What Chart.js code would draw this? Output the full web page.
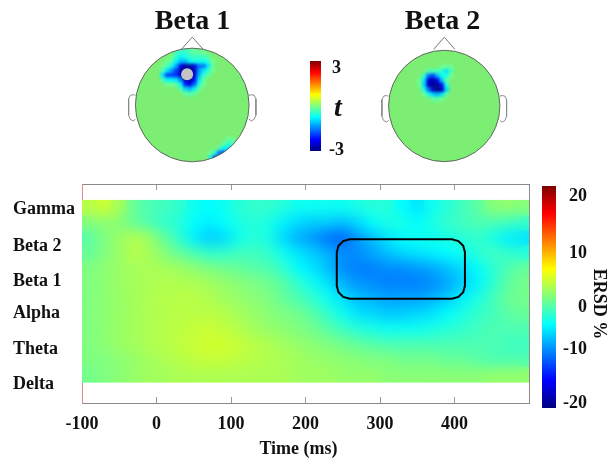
<!DOCTYPE html>
<html><head><meta charset="utf-8">
<script src="https://cdn.jsdelivr.net/npm/chart.js@4"></script>
<style>
html,body{margin:0;padding:0;background:#fff}
body{position:relative;width:611px;height:463px;overflow:hidden}
canvas{position:absolute;display:block}
#tLabel{position:absolute;left:326px;top:90px;width:24px;text-align:center;font:italic bold 28px "Liberation Serif",serif;color:#111;line-height:34px}
</style></head><body>
<canvas id="topo1" width="162" height="182" style="left:110px;top:0"></canvas>
<canvas id="topo2" width="166" height="182" style="left:368px;top:0"></canvas>
<canvas id="tBar" width="60" height="130" style="left:300px;top:40px"></canvas>
<div id="tLabel">t</div>
<canvas id="main" width="611" height="463" style="left:0;top:0"></canvas>
<canvas id="ersdBar" width="81" height="265" style="left:530px;top:165px"></canvas>
<script>
// ---- main time-frequency map ----
const bandNames = ['Delta','Theta','Alpha','Beta 1','Beta 2','Gamma'];
const bandTicks = [-0.029,0.971,2,2.914,3.914,4.971];
const timeTicks = [-100,0,100,200,300,400,500];
const timeLabels = ['-100','0','100','200','300','400',''];
const heatTimes = [-90,-70,-50,-30,-10,10,30,50,70,90,110,130,150,170,190,210,230,250,270,290,310,330,350,370,390,410,430,450,470,490];
const heatBands = [5.011,4.577,4.143,3.708,3.274,2.840,2.405,1.971,1.537,1.103,0.668,0.234];
const ersdRow0  = [2.2,3,1.5,-1,-2,-2.5,-3,-4.5,-5,-4.5,-3.5,-3,-3,-3.5,-4.5,-4.5,-4.5,-4.5,-4,-3.5,-3.5,-5,-6,-4.5,-3.5,-2.5,-1.5,0.3,0.7,0.3];
const ersdRow1  = [0,0.5,0.3,-1,-2,-3,-3.5,-5,-5.5,-5,-4,-3.5,-4,-5.5,-6.5,-7,-7,-7.5,-6.5,-5,-4,-4,-5,-4,-3,-2.5,-2,-2,-2.5,-3];
const ersdRow2  = [-1.5,0,1,2,1.2,-1,-3,-5.5,-7,-6.5,-4.5,-3.5,-4,-6.5,-8,-9,-10.5,-11,-9,-7.5,-6,-5,-4.5,-4.5,-4,-3.5,-3,-4,-5.5,-6];
const ersdRow3  = [-1,0,1,2,1.5,0.3,-1,-2,-3,-3,-2.5,-2.5,-3,-4.5,-6,-7,-8,-9.5,-9.5,-8.5,-7.5,-6.5,-6,-5.5,-5,-4.5,-3.5,-2.5,-3,-3.5];
const ersdRow4  = [0,0.5,1,1.5,1.6,1.6,1.2,0.6,0,-0.5,-1,-1.5,-2,-3,-5,-6,-7.5,-9.5,-10,-10,-9.5,-9.5,-9,-8.5,-7.5,-6.5,-5,-3.5,-2,-1];
const ersdRow5  = [0,0.5,1,1.4,1.8,1.9,1.9,1.8,1.4,0.9,0.4,0,-0.5,-1.5,-3,-4.5,-6,-8,-9,-9.5,-10,-10,-10,-9.5,-8.5,-7,-5.5,-3.5,-1.5,-0.5];
const ersdRow6  = [0,0.5,1,1.4,1.8,2.1,2.2,2.2,1.9,1.4,0.9,0.4,0,-1,-2,-3,-4.5,-6,-7.5,-8,-8.5,-8.5,-8.5,-8,-7,-5.5,-4,-2.5,-1,-0.5];
const ersdRow7  = [0,0.5,1,1.4,1.8,2.1,2.2,2.3,2.3,2,1.5,1,0.4,0,-0.5,-1.5,-3,-4.5,-6,-6.5,-7,-7,-6.5,-6,-5,-4,-3,-2.5,-1.5,-1];
const ersdRow8  = [0,0.5,1,1.4,1.8,2.1,2.4,2.7,2.9,2.6,2,1.4,0.9,0.4,0,-0.5,-1.5,-2.5,-3.5,-4,-4.5,-4.5,-4.5,-4,-3.5,-3,-2.5,-2,-2,-2];
const ersdRow9  = [0,0.5,1,1.4,1.8,2.1,2.4,2.9,3.2,3.2,2.8,2.3,1.9,1.4,0.9,0.4,0,-0.5,-1,-1.5,-2,-2,-2,-2,-2,-2,-2,-2,-2.5,-2.5];
const ersdRow10 = [0,0,0.5,0.9,1.4,1.8,2.1,2.5,2.7,2.7,2.4,2.2,1.9,1.7,1.3,1,0.8,0.5,0.3,0,0,-0.5,-0.5,-0.5,-1,-1,-1.5,-2,-2,-2];
const ersdRow11 = [-0.5,0,0.4,0.9,1.3,1.4,1.7,1.8,1.8,1.8,1.8,1.7,1.7,1.6,1.3,1.2,1.2,0.9,0.8,0.8,0.4,0.4,0.4,0.4,0.4,0.4,0.4,0.8,0.8,0.8];
const ersdRows = [ersdRow0,ersdRow1,ersdRow2,ersdRow3,ersdRow4,ersdRow5,ersdRow6,ersdRow7,ersdRow8,ersdRow9,ersdRow10,ersdRow11];
// region-of-interest box (ms, band units)
const boxTimes = [242,244.3,250.7,259.4,396.6,405.3,411.7,414,414,411.7,405.3,396.6,259.4,250.7,244.3,242,242];
const boxBands = [3.736,3.921,4.056,4.106,4.106,4.056,3.921,3.736,2.779,2.594,2.459,2.409,2.409,2.459,2.594,2.779,3.736];

// ---- colour bars ----
const ersdBarRange = [-20,20];
const ersdTickPlaces = [18.2,7.9,-1.8,-9.4,-19.2];
const ersdTickLabels = ['20','10','0','-10','-20'];
const tBarRange = [-3,3];
const tTickPlaces = [2.52,-2.93];
const tTickLabels = ['3','-3'];

// ---- scalp maps (t values; head radius = 100) ----
const b1X = [-52,-44,-36,-28,-20,-12,-4,4,12,20,28,36];
const b1Y = [100,92,84,76,68,60,52,44,36,28,20];
const b1T = [
 [0,0,0,0,-.2,-.3,-.2,-.1,-.1,0,0,0],
 [0,0,0,-.3,-.5,-.5,-.3,-.2,-.2,-.1,0,0],
 [0,0,-.1,-.5,-.8,-.6,-.5,-.4,-.4,-.4,-.3,0],
 [0,-.1,-.3,-.8,-1.2,-1.2,-.8,-.6,-.7,-.7,-.5,-.1],
 [-.1,-.3,-.7,-1.3,-2.4,-2.8,-2.8,-2.4,-1.6,-1.6,-.9,-.2],
 [-.3,-.9,-1.4,-1.9,-2.6,-2.9,-2.9,-2.6,-1.4,-.9,-.5,-.1],
 [-.9,-1.9,-1.9,-2,-2.6,-2.9,-2.9,-2.5,-1.2,-.5,-.2,0],
 [-.3,-.8,-.8,-.9,-1.5,-2.6,-2.7,-2.2,-.9,-.2,0,0],
 [0,-.1,-.1,-.2,-.8,-2.1,-2.4,-1.7,-.6,-.1,0,0],
 [0,0,0,0,-.3,-1,-1.2,-.8,-.2,0,0,0],
 [0,0,0,0,0,-.2,-.3,-.2,0,0,0,0]];
const b1LowX = [24,32,40,48,56,64,72];
const b1LowY = [-60,-68,-76,-84,-92,-100];
const b1LowT = [
 [0,0,0,0,0,-.1,-.1],
 [0,0,0,0,-.2,-.5,-.3],
 [0,0,0,-.3,-.8,-.9,-.4],
 [0,-.1,-.5,-1.6,-1.8,-1,0],
 [0,-.6,-1.8,-2.8,-2.6,0,0],
 [0,-.5,-2,-2.8,-2.6,0,0]];
const b2X = [-44,-36,-28,-20,-12,-4,4,12];
const b2Y = [68,60,52,44,36,28,20,12];
const b2T = [
 [0,0,0,0,0,-.1,-.1,-.1],
 [0,0,-.3,-.4,-.3,-.5,-.9,-.4],
 [0,-.5,-1.6,-1.9,-1.2,-.7,-.6,-.1],
 [-.1,-.9,-2.4,-2.8,-2.3,-1.1,-.2,0],
 [-.1,-1,-2.6,-2.9,-2.9,-2.2,-.6,0],
 [0,-.6,-1.6,-2.6,-2.9,-2.6,-1,0],
 [0,-.1,-.6,-1,-1.2,-.9,-.2,0],
 [0,0,0,-.2,-.2,-.1,0,0]];
const electrodeDot = [{x:-9,y:54}];
const noseX = [-19,0,19], noseY = [98,119,98];
const earLeftX = [-100,-104,-109,-112,-112,-109,-104,-100];
const earRightX = [100,104,109,112,112,109,104,100];
const earY = [17,18,17,11,-18,-25,-28,-25];

// ---- helpers ----
const serif = '"Liberation Serif", serif';
const ink = '#111';
const clamp01 = v => Math.max(0, Math.min(1, v));
function jet(f){
  const r = clamp01(1.5 - Math.abs(4*f - 3)), g = clamp01(1.5 - Math.abs(4*f - 2)), b = clamp01(1.5 - Math.abs(4*f - 1));
  return `rgb(${Math.round(r*255)},${Math.round(g*255)},${Math.round(b*255)})`;
}
const jetStops = [0,.125,.375,.625,.875,1];
function barGradient(ctx){
  const a = ctx.chart.chartArea;
  if(!a) return '#7f7';
  const g = ctx.chart.ctx.createLinearGradient(0,a.bottom,0,a.top);
  jetStops.forEach(s => g.addColorStop(s, jet(s)));
  return g;
}
function shiftTitle(scale,dx,dy){
  if(scale._shifted) return;
  scale._shifted = true;
  const orig = scale.drawTitle;
  scale.drawTitle = function(){
    const c = this.ctx; c.save(); c.translate(dx,dy); orig.call(this); c.restore();
  };
}
const smoothCells = {
  id:'smoothCells',
  beforeDatasetDraw(chart,args){
    const d = chart.data.datasets[args.index];
    if(!d.smoothPx) return;
    const ctx = chart.ctx; ctx.save();
    if(d.circleClip){
      const x=chart.scales.x, y=chart.scales.y;
      ctx.beginPath();
      ctx.arc(x.getPixelForValue(0),y.getPixelForValue(0),x.getPixelForValue(100)-x.getPixelForValue(0),0,Math.PI*2);
      ctx.clip();
    }
  },
  afterDatasetDraw(chart,args){
    const d = chart.data.datasets[args.index];
    if(!d.smoothPx) return;
    const ctx = chart.ctx, a = d.smoothArea ? d.smoothArea(chart) : {x:chart.chartArea.left,y:chart.chartArea.top,w:chart.chartArea.width,h:chart.chartArea.height};
    if(!d.circleClip){ ctx.beginPath(); ctx.rect(a.x,a.y,a.w,a.h); ctx.clip(); }
    ctx.filter = `blur(${d.smoothPx}px)`;
    ctx.drawImage(chart.canvas,a.x,a.y,a.w,a.h,a.x,a.y,a.w,a.h);
    ctx.filter = 'none';
    ctx.restore();
  }
};
Chart.register(smoothCells);
const base = {responsive:false,animation:false,devicePixelRatio:1,events:[],
  plugins:{legend:{display:false},tooltip:{enabled:false},title:{display:false}}};

// ---- main chart ----
const heatPoints = [];
ersdRows.forEach((row,j)=>row.forEach((v,i)=>heatPoints.push({x:heatTimes[i],y:heatBands[j],v})));
const tickFont = {family:serif,size:18,weight:'bold'};
new Chart(document.getElementById('main'),{
  type:'scatter',
  data:{datasets:[
    {label:'ROI',data:boxTimes.map((x,i)=>({x,y:boxBands[i]})),showLine:true,pointRadius:0,borderColor:'#000',borderWidth:2,order:0},
    {label:'ERSD %',data:heatPoints,pointStyle:'rect',pointRadius:10.9,pointBorderWidth:0,
     pointBackgroundColor:c=>jet((c.raw.v+20)/40),order:5,smoothPx:6.5,
     smoothArea(chart){
       const y=chart.scales.y,a=chart.chartArea;
       const t=y.getPixelForValue(5.229),b=y.getPixelForValue(0.017);
       return {x:a.left,y:t,w:a.width,h:b-t};
     }}
  ]},
  options:{...base,
    layout:{padding:{left:13,top:184,right:82,bottom:0}},
    scales:{
      x:{type:'linear',position:'bottom',min:-100,max:500,
        afterBuildTicks:s=>{s.ticks=timeTicks.map(v=>({value:v}));},
        afterFit:s=>{s.height=60;shiftTitle(s,-7,0);},
        border:{color:'#8a8a8a'},
        grid:{drawOnChartArea:false,tickLength:-6,tickColor:'#999'},
        ticks:{font:tickFont,color:ink,padding:17,maxRotation:0,autoSkip:false,callback:(v,i)=>timeLabels[i]},
        title:{display:true,text:'Time (ms)',font:tickFont,color:ink,padding:{top:0,bottom:3}}},
      x2:{type:'linear',position:'top',min:-100,max:500,
        afterBuildTicks:s=>{s.ticks=timeTicks.map(v=>({value:v}));},
        afterFit:s=>{s.height=0;},
        border:{color:'#8a8a8a'},
        grid:{drawOnChartArea:false,tickLength:-6,tickColor:'#999'},
        ticks:{display:false}},
      y:{type:'linear',position:'left',min:-0.571,max:5.686,
        afterBuildTicks:s=>{s.ticks=bandTicks.map(v=>({value:v}));},
        afterFit:s=>{s.width=69;},
        border:{color:'#d98a8a'},grid:{display:false},
        ticks:{font:tickFont,color:ink,crossAlign:'far',autoSkip:false,callback:(v,i)=>bandNames[i]}},
      y2:{type:'linear',position:'right',min:-0.571,max:5.686,
        afterFit:s=>{s.width=0;},
        border:{color:'#8a8a8a'},grid:{display:false},ticks:{display:false}}
    }
  }
});

// ---- colour bars ----
function colourBar(id,range,places,labels,pad,scaleWidth,tickOpts,extraY){
  return new Chart(document.getElementById(id),{
    type:'bar',
    data:{labels:[id],datasets:[{data:[range],backgroundColor:barGradient,borderWidth:0,barPercentage:1,categoryPercentage:1,inflateAmount:0}]},
    options:{...base,layout:{padding:pad},
      scales:{
        x:{display:false},
        y:Object.assign({type:'linear',position:'right',min:range[0],max:range[1],
          afterBuildTicks:s=>{s.ticks=places.map(v=>({value:v}));},
          afterFit:s=>{s.width=scaleWidth;if(extraY)extraY(s);},
          border:{display:false},grid:{display:false},
          ticks:Object.assign({font:tickFont,color:ink,autoSkip:false,callback:(v,i)=>labels[i]},tickOpts)
        },id==='ersdBar'?{title:{display:true,text:'ERSD %',font:tickFont,color:ink,padding:0}}:{})
      }
    }
  });
}
colourBar('ersdBar',ersdBarRange,ersdTickPlaces,ersdTickLabels,{left:12,right:24,top:21,bottom:22},31,{crossAlign:'far'},s=>shiftTitle(s,22,7));
colourBar('tBar',tBarRange,tTickPlaces,tTickLabels,{left:10,right:9,top:21,bottom:19},30,{crossAlign:'center',padding:0});

// ---- scalp maps ----
const grid = (xs,ys,ts) => ts.flatMap((row,j)=>row.map((t,i)=>({x:xs[i],y:ys[j],t})));
const headColour = '#7bee73';
const lineColour = '#777';
function topo(id,title,cells,pad,dot){
  const radius = c => { const x=c.chart.scales.x; return x.getPixelForValue(100)-x.getPixelForValue(0); };
  const line = (xs,ys,order,col)=>({data:xs.map((x,i)=>({x,y:ys[i]})),showLine:true,pointRadius:0,borderColor:col,borderWidth:1,order});
  const datasets = [
    line(noseX,noseY,9,lineColour),
    line(earLeftX,earY,9,'#8a8a8a'),
    line(earRightX,earY,9,'#8a8a8a'),
    {data:[{x:0,y:0}],pointRadius:radius,pointBackgroundColor:headColour,pointBorderWidth:0,order:8},
    {data:cells,pointStyle:'rect',pointRadius:3.4,pointBorderWidth:0,order:7,smoothPx:1.6,circleClip:true,
     pointBackgroundColor:c=>c.raw.t===0?'rgba(0,0,0,0)':jet((c.raw.t+3)/6)},
    {data:[{x:0,y:0}],pointRadius:radius,pointBackgroundColor:'rgba(0,0,0,0)',pointBorderColor:'#666',pointBorderWidth:1,order:2}
  ];
  if(dot) datasets.push({data:dot,pointRadius:6,pointBackgroundColor:'#c4c4c4',pointBorderWidth:0,order:0});
  return new Chart(document.getElementById(id),{
    type:'scatter',data:{datasets},
    options:{...base,
      layout:{padding:pad},
      plugins:{...base.plugins,title:{display:true,text:title,color:ink,font:{family:serif,size:28,weight:'bold',lineHeight:1},padding:{top:8,bottom:0}}},
      scales:{x:{type:'linear',display:false,min:-129.8,max:129.8},y:{type:'linear',display:false,min:-124.56,max:121}}
    }
  });
}
topo('topo1','Beta 1',grid(b1X,b1Y,b1T).concat(grid(b1LowX,b1LowY,b1LowT)),{left:8.5,right:5.5},electrodeDot);
topo('topo2','Beta 2',grid(b2X,b2Y,b2T),{left:0.5,right:17.5},null);
</script>
</body></html>
